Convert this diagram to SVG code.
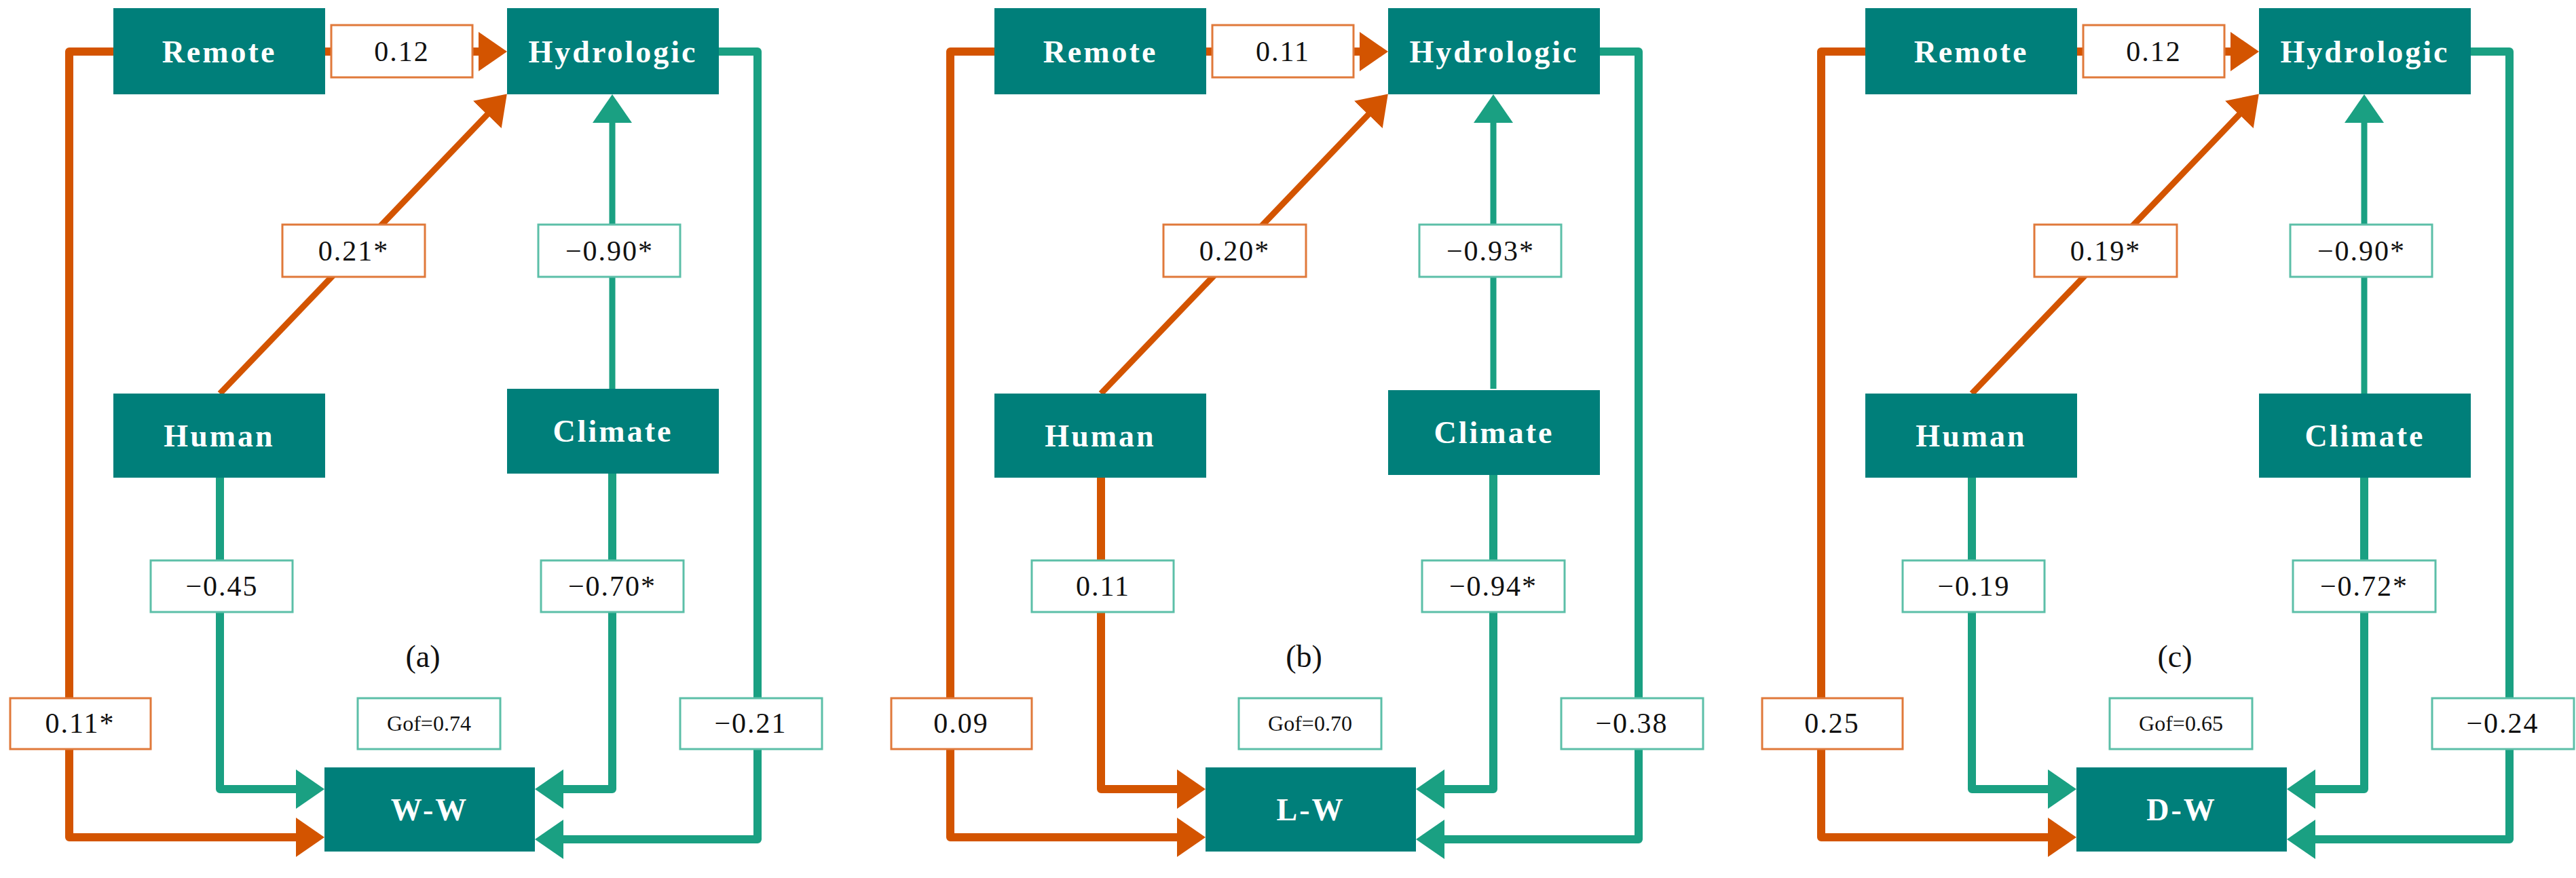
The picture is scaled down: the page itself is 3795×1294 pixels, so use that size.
<svg xmlns="http://www.w3.org/2000/svg" width="3795" height="1294" viewBox="0 0 3795 1294">
<style>
.node{fill:#007F7A}
.nt{fill:#fff;font-family:"Liberation Serif",serif;font-weight:bold;font-size:46px;letter-spacing:3px;text-anchor:middle;dominant-baseline:central}
.lo{fill:#fff;stroke:#E0793A;stroke-width:3}
.lt{fill:#fff;stroke:#5CBFA8;stroke-width:3}
.lb{fill:#111;font-family:"Liberation Serif",serif;font-size:42px;letter-spacing:2px;text-anchor:middle;dominant-baseline:central}
.gof{fill:#111;font-family:"Liberation Serif",serif;font-size:32px;text-anchor:middle;dominant-baseline:central}
.pl{fill:#111;font-family:"Liberation Serif",serif;font-size:46px;text-anchor:middle;dominant-baseline:central}
.eo{fill:none;stroke:#D35400;stroke-width:12;stroke-linejoin:round}
.et{fill:none;stroke:#1AA082;stroke-width:12;stroke-linejoin:round}
.thin{stroke-width:9}
.mo{marker-end:url(#ao)}
.mt{marker-end:url(#at)}
</style>
<defs>
<marker id="ao" markerUnits="userSpaceOnUse" markerWidth="44" markerHeight="58" refX="22" refY="29" orient="auto"><path d="M0,0 L42,29 L0,58 z" fill="#D35400"/></marker>
<marker id="at" markerUnits="userSpaceOnUse" markerWidth="44" markerHeight="58" refX="22" refY="29" orient="auto"><path d="M0,0 L42,29 L0,58 z" fill="#1AA082"/></marker>
</defs>

<g id="panel-a">
<g id="connectors-a">
<path class="eo" d="M479,76 H727" marker-end="url(#ao)"/>
<path class="eo thin mo" d="M324,580 L733,153"/>
<path class="et thin mt" d="M902,573 V159"/>
<path class="eo mo" d="M167,76 H102 V1234 H458"/>
<path class="et mt" d="M324,704 V1163 H458"/>
<path class="et mt" d="M902,698 V1163 H808"/>
<path class="et mt" d="M1059,76 H1116 V1237 H808"/>
</g>
<g id="a-remote"><rect class="node" x="167" y="12" width="312" height="127"/><text class="nt" x="323" y="76">Remote</text></g>
<g id="a-hydrologic"><rect class="node" x="747" y="12" width="312" height="127"/><text class="nt" x="903" y="76">Hydrologic</text></g>
<g id="a-human"><rect class="node" x="167" y="580" width="312" height="124"/><text class="nt" x="323" y="642">Human</text></g>
<g id="a-climate"><rect class="node" x="747" y="573" width="312" height="125"/><text class="nt" x="903" y="635">Climate</text></g>
<g id="a-ww"><rect class="node" x="478" y="1131" width="310" height="124"/><text class="nt" x="633" y="1193">W-W</text></g>
<g id="a-labels">
<rect class="lo" x="488" y="37" width="208" height="77"/><text class="lb" x="592" y="76">0.12</text>
<rect class="lo" x="416" y="331" width="210" height="77"/><text class="lb" x="521" y="370">0.21*</text>
<rect class="lt" x="793" y="331" width="209" height="77"/><text class="lb" x="898" y="370">−0.90*</text>
<rect class="lt" x="222" y="826" width="209" height="76"/><text class="lb" x="327" y="864">−0.45</text>
<rect class="lt" x="797" y="826" width="210" height="76"/><text class="lb" x="902" y="864">−0.70*</text>
<rect class="lo" x="15" y="1029" width="207" height="75"/><text class="lb" x="118" y="1066">0.11*</text>
<rect class="lt" x="527" y="1029" width="210" height="75"/><text class="gof" x="632" y="1066">Gof=0.74</text>
<rect class="lt" x="1002" y="1029" width="209" height="75"/><text class="lb" x="1106" y="1066">−0.21</text>
<text class="pl" x="623" y="967">(a)</text>
</g>
</g>

<g id="panel-b" transform="translate(1298,0)">
<g id="connectors-b">
<path class="eo mo" d="M479,76 H727"/>
<path class="eo thin mo" d="M324,580 L733,153"/>
<path class="et thin mt" d="M902,573 V159"/>
<path class="eo mo" d="M167,76 H102 V1234 H458"/>
<path class="eo mo" d="M324,704 V1163 H458"/>
<path class="et mt" d="M902,698 V1163 H808"/>
<path class="et mt" d="M1059,76 H1116 V1237 H808"/>
</g>
<g id="b-remote"><rect class="node" x="167" y="12" width="312" height="127"/><text class="nt" x="323" y="76">Remote</text></g>
<g id="b-hydrologic"><rect class="node" x="747" y="12" width="312" height="127"/><text class="nt" x="903" y="76">Hydrologic</text></g>
<g id="b-human"><rect class="node" x="167" y="580" width="312" height="124"/><text class="nt" x="323" y="642">Human</text></g>
<g id="b-climate"><rect class="node" x="747" y="575" width="312" height="125"/><text class="nt" x="903" y="637">Climate</text></g>
<g id="b-lw"><rect class="node" x="478" y="1131" width="310" height="124"/><text class="nt" x="633" y="1193">L-W</text></g>
<g id="b-labels">
<rect class="lo" x="488" y="37" width="208" height="77"/><text class="lb" x="592" y="76">0.11</text>
<rect class="lo" x="416" y="331" width="210" height="77"/><text class="lb" x="521" y="370">0.20*</text>
<rect class="lt" x="793" y="331" width="209" height="77"/><text class="lb" x="898" y="370">−0.93*</text>
<rect class="lt" x="222" y="826" width="209" height="76"/><text class="lb" x="327" y="864">0.11</text>
<rect class="lt" x="797" y="826" width="210" height="76"/><text class="lb" x="902" y="864">−0.94*</text>
<rect class="lo" x="15" y="1029" width="207" height="75"/><text class="lb" x="118" y="1066">0.09</text>
<rect class="lt" x="527" y="1029" width="210" height="75"/><text class="gof" x="632" y="1066">Gof=0.70</text>
<rect class="lt" x="1002" y="1029" width="209" height="75"/><text class="lb" x="1106" y="1066">−0.38</text>
<text class="pl" x="623" y="967">(b)</text>
</g>
</g>

<g id="panel-c" transform="translate(2581,0)">
<g id="connectors-c">
<path class="eo mo" d="M479,76 H727"/>
<path class="eo thin mo" d="M324,580 L733,153"/>
<path class="et thin mt" d="M902,580 V159"/>
<path class="eo mo" d="M167,76 H102 V1234 H458"/>
<path class="et mt" d="M324,704 V1163 H458"/>
<path class="et mt" d="M902,704 V1163 H808"/>
<path class="et mt" d="M1059,76 H1116 V1237 H808"/>
</g>
<g id="c-remote"><rect class="node" x="167" y="12" width="312" height="127"/><text class="nt" x="323" y="76">Remote</text></g>
<g id="c-hydrologic"><rect class="node" x="747" y="12" width="312" height="127"/><text class="nt" x="903" y="76">Hydrologic</text></g>
<g id="c-human"><rect class="node" x="167" y="580" width="312" height="124"/><text class="nt" x="323" y="642">Human</text></g>
<g id="c-climate"><rect class="node" x="747" y="580" width="312" height="124"/><text class="nt" x="903" y="642">Climate</text></g>
<g id="c-dw"><rect class="node" x="478" y="1131" width="310" height="124"/><text class="nt" x="633" y="1193">D-W</text></g>
<g id="c-labels">
<rect class="lo" x="488" y="37" width="208" height="77"/><text class="lb" x="592" y="76">0.12</text>
<rect class="lo" x="416" y="331" width="210" height="77"/><text class="lb" x="521" y="370">0.19*</text>
<rect class="lt" x="793" y="331" width="209" height="77"/><text class="lb" x="898" y="370">−0.90*</text>
<rect class="lt" x="222" y="826" width="209" height="76"/><text class="lb" x="327" y="864">−0.19</text>
<rect class="lt" x="797" y="826" width="210" height="76"/><text class="lb" x="902" y="864">−0.72*</text>
<rect class="lo" x="15" y="1029" width="207" height="75"/><text class="lb" x="118" y="1066">0.25</text>
<rect class="lt" x="527" y="1029" width="210" height="75"/><text class="gof" x="632" y="1066">Gof=0.65</text>
<rect class="lt" x="1002" y="1029" width="209" height="75"/><text class="lb" x="1106" y="1066">−0.24</text>
<text class="pl" x="623" y="967">(c)</text>
</g>
</g>
</svg>
